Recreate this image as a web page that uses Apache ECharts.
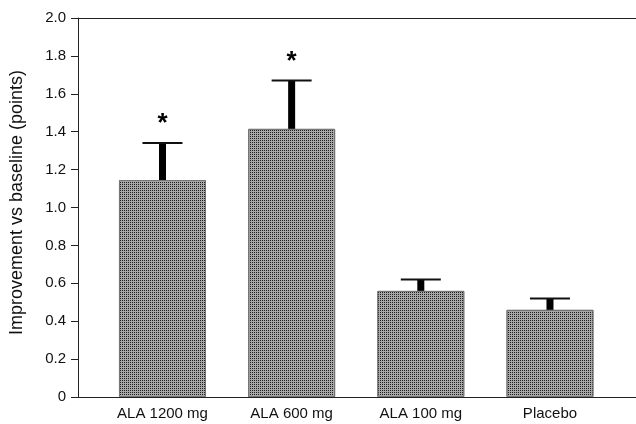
<!DOCTYPE html>
<html>
<head>
<meta charset="utf-8">
<script src="https://cdn.jsdelivr.net/npm/echarts@6/dist/echarts.min.js"></script>
<style>html,body{margin:0;padding:0;background:#fff}#c{width:636px;height:424px}</style>
</head>
<body>
<div id="c"></div>
<script>
var categories = ['ALA 1200 mg', 'ALA 600 mg', 'ALA 100 mg', 'Placebo'];
var means = [1.145, 1.415, 0.56, 0.46];
var errHigh = [1.34, 1.67, 0.62, 0.52];
var marks = ['*', '*', '', ''];
var yTicks = [0, 0.2, 0.4, 0.6, 0.8, 1.0, 1.2, 1.4, 1.6, 1.8, 2.0];

var chart = echarts.init(document.getElementById('c'));
var font = 'Liberation Sans, Arial, sans-serif';

var barData = means.map(function (v, i) { return [i, v]; });
var errData = means.map(function (v, i) { return [i, v, errHigh[i], marks[i]]; });

chart.setOption({
  animation: false,
  backgroundColor: '#fff',
  grid: { left: 78, right: 0, top: 18, bottom: 27 },
  xAxis: [{
    type: 'value',
    min: -0.654, max: 3.666,
    axisLine: { show: true, onZero: false, lineStyle: { color: '#222', width: 1 } },
    axisTick: { show: false },
    splitLine: { show: false },
    axisLabel: {
      customValues: [0, 1, 2, 3],
      formatter: function (v) { return categories[Math.round(v)] || ''; },
      color: '#111', fontFamily: font, fontSize: 15, margin: 9,
      showMinLabel: true, showMaxLabel: true
    }
  }, {
    type: 'value', position: 'top',
    min: -0.654, max: 3.666,
    axisLine: { show: true, onZero: false, lineStyle: { color: '#222', width: 1 } },
    axisTick: { show: false }, axisLabel: { show: false }, splitLine: { show: false }
  }],
  yAxis: {
    type: 'value', min: 0, max: 2, interval: 0.2,
    name: 'Improvement vs baseline (points)',
    nameLocation: 'middle', nameGap: 52,
    nameTextStyle: { fontFamily: font, fontSize: 18, color: '#111', padding: [0, 0, 0, 10] },
    axisLine: { show: true, onZero: false, lineStyle: { color: '#222', width: 1 } },
    axisTick: { show: true, length: 7, lineStyle: { color: '#222' } },
    splitLine: { show: false },
    axisLabel: {
      color: '#111', fontFamily: font, fontSize: 15, margin: 12,
      formatter: function (v) { return v === 0 ? '0' : v.toFixed(1); }
    }
  },
  series: [{
    type: 'bar',
    data: barData,
    barWidth: 87,
    itemStyle: {
      color: '#a8a8a8',
      borderColor: '#777', borderWidth: 1,
      decal: {
        symbol: 'rect', symbolSize: 1,
        dashArrayX: [1, 1], dashArrayY: [1, 1],
        color: '#1e1e1e'
      }
    },
    z: 2
  }, {
    type: 'custom',
    data: errData,
    z: 3,
    renderItem: function (params, api) {
      var i = api.value(0);
      var top = api.coord([i, api.value(2)]);
      var base = api.coord([i, api.value(1)]);
      var children = [
        { type: 'rect', shape: { x: top[0] - 3.5, y: top[1], width: 7, height: base[1] - top[1] }, style: { fill: '#000' } },
        { type: 'line', shape: { x1: top[0] - 20, y1: top[1], x2: top[0] + 20, y2: top[1] }, style: { stroke: '#111', lineWidth: 2 } }
      ];
      var m = marks[params.dataIndex];
      if (m) {
        children.push({ type: 'text', x: top[0], y: top[1] - 6, style: { text: m, fontSize: 26, fontWeight: 'bold', fontFamily: font, fill: '#000', align: 'center', verticalAlign: 'bottom' } });
      }
      return { type: 'group', children: children };
    }
  }]
});
</script>
</body>
</html>
